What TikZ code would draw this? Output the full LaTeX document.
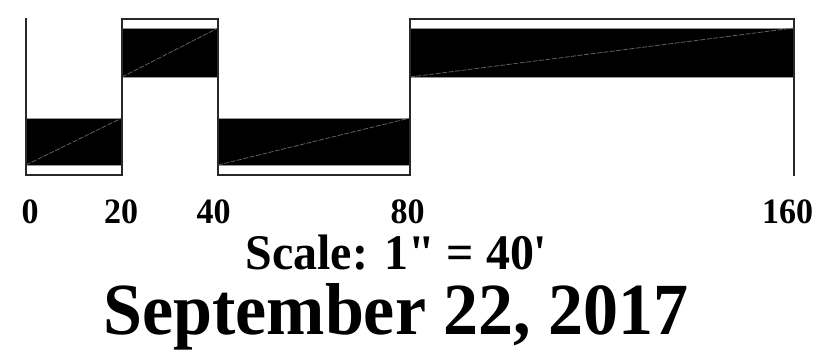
\documentclass[tikz,border=0pt]{standalone}
\usepackage{fontspec}
\usepackage{graphicx}
\setmainfont{Liberation Serif}
\newfontfamily\rawserif{Liberation Serif}
\usetikzlibrary{positioning}
\definecolor{edgegray}{RGB}{150,150,150}
\definecolor{dashgray}{RGB}{95,95,95}
\definecolor{rulegray}{RGB}{40,40,40}

\begin{document}
\begin{tikzpicture}[x=1pt, y=-1pt,
  band/.style={fill=black, draw=edgegray, line width=0.8pt},
  diag/.style={draw=dashgray, line width=0.8pt, dash pattern=on 5pt off 1.5pt},
  rim/.style={draw=rulegray, line width=2pt},
  ticklbl/.style={anchor=base, inner sep=0pt, font=\fontsize{34}{34}\selectfont\bfseries}]
  \useasboundingbox (0,0) rectangle (819,352);

  % Bands (x from / x to / lower edge / upper edge / rim)
  \foreach \xa/\xb/\ya/\yb/\ye in {
    26 / 122 / 165 / 118 / 175,
    122/ 218 /  77 /  28 /  19,
    218/ 410 / 165 / 118 / 175,
    410/ 794 /  77 /  28 /  19
  }{
    \fill[white] (\xa,\yb) rectangle (\xb,\ye);
    \draw[band] (\xa,\ya) rectangle (\xb,\yb);
    \draw[diag] (\xa,\ya) -- (\xb,\yb);
    \draw[rim] (\xa,\ye) -- (\xb,\ye);
  }
  % Ticks
  \foreach \x in {26,122,218,410,794}
    \draw[rim] (\x,18) -- (\x,176);

  % Tick labels
  \foreach \x/\lbl in {30/0, 121/20, 213.5/40, 407.5/80, 787.5/160}
    \node[ticklbl] (t\lbl) at (\x,224) {\scalebox{1}[1.05]{\lbl}};

  \node[anchor=base, inner sep=0pt, font=\rawserif\fontsize{47}{47}\selectfont\bfseries]
    (scale) at (396.5,270) {\scalebox{1.02}[1.06]{Scale: 1" = 40'}};
  \node[anchor=base, inner sep=0pt, font=\fontsize{70}{70}\selectfont\bfseries]
    (date) at (396,335) {\scalebox{1}[1.05]{September 22, 2017}};
\end{tikzpicture}
\end{document}
